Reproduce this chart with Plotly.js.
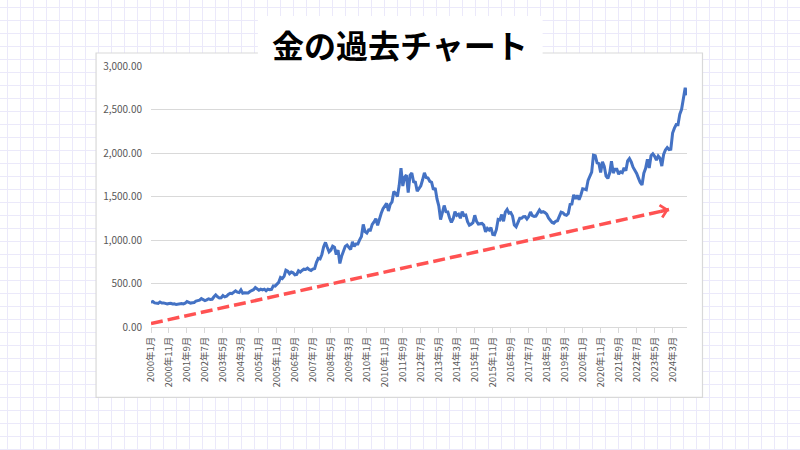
<!DOCTYPE html>
<html>
<head>
<meta charset="utf-8">
<script src="https://cdn.plot.ly/plotly-3.0.1.min.js"></script>
<style>
  html, body { margin: 0; padding: 0; }
  body {
    width: 800px; height: 450px; overflow: hidden;
    background-color: #ffffff;
    background-image:
      linear-gradient(to right, #ebe9fa 1px, transparent 1px),
      linear-gradient(to bottom, #ebe9fa 1px, transparent 1px);
    background-size: 13px 13px;
    background-position: 7px 7px;
  }
  #chart { width: 800px; height: 450px; }
</style>
</head>
<body>
<div id="chart"></div>
<script>
// ---- Data (monthly gold price, USD/oz) ----
const startYear = 2000;
const y2000 = [283, 293, 277, 275, 272, 288, 276, 277, 273, 264, 270, 272];
const y2001 = [265, 266, 258, 263, 267, 270, 265, 273, 293, 279, 275, 279];
const y2002 = [282, 297, 302, 308, 326, 318, 304, 312, 324, 316, 319, 347];
const y2003 = [368, 348, 334, 336, 361, 346, 354, 375, 388, 384, 398, 416];
const y2004 = [400, 396, 427, 388, 393, 394, 391, 408, 416, 429, 453, 438];
const y2005 = [422, 435, 427, 435, 417, 435, 429, 433, 473, 470, 495, 513];
const y2006 = [569, 556, 582, 654, 643, 613, 632, 623, 599, 604, 646, 632];
const y2007 = [650, 665, 662, 677, 659, 650, 665, 672, 743, 789, 783, 834];
const y2008 = [923, 972, 916, 864, 885, 930, 918, 833, 884, 730, 815, 870];
const y2009 = [927, 942, 916, 891, 979, 927, 955, 955, 1001, 1040, 1179, 1096];
const y2010 = [1081, 1116, 1113, 1180, 1207, 1244, 1169, 1246, 1307, 1359, 1384, 1421];
const y2011 = [1333, 1410, 1439, 1556, 1536, 1500, 1628, 1825, 1620, 1722, 1746, 1545];
const y2012 = [1744, 1770, 1669, 1664, 1560, 1598, 1622, 1692, 1773, 1719, 1713, 1675];
const y2013 = [1664, 1578, 1598, 1472, 1393, 1235, 1312, 1396, 1326, 1323, 1253, 1202];
const y2014 = [1244, 1326, 1284, 1296, 1250, 1327, 1282, 1287, 1210, 1171, 1182, 1199];
const y2015 = [1284, 1213, 1183, 1183, 1190, 1172, 1095, 1133, 1115, 1142, 1065, 1061];
const y2016 = [1118, 1238, 1232, 1293, 1215, 1322, 1351, 1309, 1316, 1277, 1173, 1152];
const y2017 = [1211, 1249, 1249, 1268, 1269, 1242, 1269, 1322, 1280, 1271, 1275, 1303];
const y2018 = [1345, 1318, 1325, 1315, 1298, 1253, 1224, 1201, 1192, 1215, 1222, 1282];
const y2019 = [1321, 1313, 1292, 1284, 1305, 1409, 1413, 1520, 1472, 1513, 1464, 1517];
const y2020 = [1589, 1585, 1577, 1686, 1730, 1781, 1975, 1968, 1886, 1879, 1777, 1898];
const y2021 = [1847, 1734, 1708, 1769, 1906, 1770, 1814, 1813, 1757, 1783, 1774, 1829];
const y2022 = [1796, 1909, 1937, 1897, 1837, 1807, 1765, 1711, 1660, 1633, 1768, 1824];
const y2023 = [1928, 1827, 1969, 1990, 1962, 1919, 1965, 1940, 1849, 1983, 2036, 2063];
const y2024 = [2040, 2044, 2230, 2286, 2327, 2326, 2447, 2503, 2634, 2750, 2665];

// Trend arrow (start / end, in data units)
const trendX = ['2000年1月', '2024年1月'];
const trendY = [40, 1350];

const titleText = '金の過去チャート';

// ---- Build series ----
const yearly = [y2000, y2001, y2002, y2003, y2004, y2005, y2006, y2007, y2008, y2009,
  y2010, y2011, y2012, y2013, y2014, y2015, y2016, y2017, y2018, y2019,
  y2020, y2021, y2022, y2023, y2024];
const categories = [];
const prices = [];
yearly.forEach((arr, yi) => {
  arr.forEach((v, mi) => {
    categories.push((startYear + yi) + '年' + (mi + 1) + '月');
    prices.push(v);
  });
});

// ---- Layout geometry ----
const W = 800, H = 450;
const mL = 151, mR = 112.5, mT = 66, mB = 123.3;
const pw = W - mL - mR, ph = H - mT - mB;
const px = (x) => (x - mL) / pw;
const py = (y) => (H - mB - y) / ph;

const tickFont = { family: 'Noto Sans CJK JP, Noto Sans, sans-serif', size: 10, color: '#595959' };

const traces = [
  {
    type: 'scatter', mode: 'lines',
    x: categories, y: prices,
    line: { color: '#4472C4', width: 3 },
    hoverinfo: 'skip'
  },
  {
    type: 'scatter', mode: 'lines',
    x: trendX, y: trendY,
    line: { color: '#FF5252', width: 3.5, dash: '12px,5px' },
    hoverinfo: 'skip'
  }
];

const layout = {
  width: W, height: H,
  margin: { l: mL, r: mR, t: mT, b: mB, pad: 0 },
  paper_bgcolor: 'rgba(0,0,0,0)',
  plot_bgcolor: 'rgba(0,0,0,0)',
  showlegend: false,
  xaxis: {
    type: 'category',
    categoryorder: 'array', categoryarray: categories,
    range: [0, categories.length - 1],
    tickmode: 'linear', tick0: 0, dtick: 10,
    tickangle: -90,
    ticks: 'outside', ticklen: 5, tickcolor: '#d9d9d9', tickwidth: 1,
    showline: true, linecolor: '#d9d9d9', linewidth: 1,
    showgrid: false, zeroline: false,
    tickfont: { family: tickFont.family, size: 9.5, color: '#595959' },
    fixedrange: true
  },
  yaxis: {
    range: [0, 3000],
    tickmode: 'linear', tick0: 0, dtick: 500,
    tickformat: ',.2f',
    showgrid: true, gridcolor: '#d9d9d9', gridwidth: 1,
    zeroline: false, showline: false, ticks: '',
    ticklabelstandoff: 8,
    tickfont: tickFont,
    fixedrange: true
  },
  shapes: [
    {
      type: 'rect', xref: 'paper', yref: 'paper', layer: 'below',
      x0: px(96), x1: px(703), y0: py(397), y1: py(53),
      fillcolor: '#ffffff', line: { color: '#d9d9d9', width: 1.2 }
    },
    {
      type: 'rect', xref: 'paper', yref: 'paper', layer: 'above',
      x0: px(258), x1: px(543), y0: py(67), y1: py(16),
      fillcolor: '#ffffff', line: { width: 0 }
    }
  ],
  annotations: [
    {
      xref: 'paper', yref: 'paper',
      x: px(400), y: py(44),
      xanchor: 'center', yanchor: 'middle',
      text: '<b>' + titleText + '</b>', showarrow: false,
      font: { family: 'Noto Sans CJK JP, sans-serif', size: 32, color: '#000000' }
    },
    {
      xref: 'x', yref: 'y',
      x: trendX[1], y: trendY[1],
      ax: -10, ay: 2.2, axref: 'pixel', ayref: 'pixel',
      showarrow: true, arrowhead: 4, arrowsize: 0.7, arrowwidth: 3.5,
      arrowcolor: '#FF5252', standoff: 0, text: ''
    }
  ]
};

Plotly.newPlot('chart', traces, layout, { displayModeBar: false, staticPlot: true });
</script>
</body>
</html>
